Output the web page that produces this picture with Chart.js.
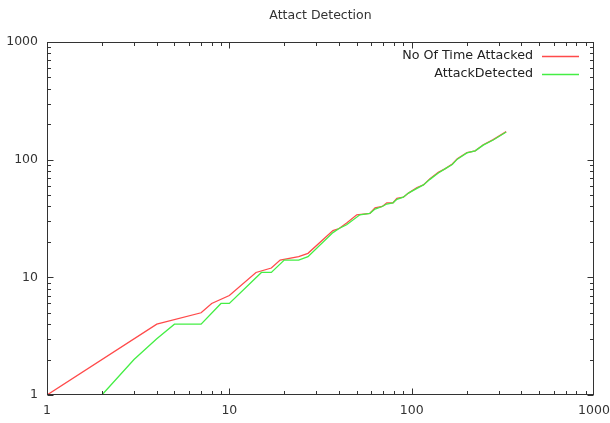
<!DOCTYPE html>
<html>
<head>
<meta charset="utf-8">
<script src="https://cdn.jsdelivr.net/npm/chart.js@4.4.1/dist/chart.umd.min.js"></script>
<style>
  html, body { margin: 0; padding: 0; background: #ffffff; }
  #c { display: block; }
</style>
</head>
<body>
<canvas id="c" width="610" height="423"></canvas>
<script>
const chartTitle = 'Attact Detection';
const seriesNames = ['No Of Time Attacked', 'AttackDetected'];

const attackedX = [1, 4, 7, 8, 10, 14, 17, 19, 24, 27, 37, 40, 44, 50, 59, 63, 69, 73, 79, 83, 90, 96, 107, 116, 126, 140, 153, 167, 178, 201, 223, 247, 280, 330];
const attackedY = [1, 4, 5, 6, 7, 11, 12, 14, 15, 16, 25, 26, 29, 34, 35, 39, 40, 43, 43, 47, 48, 52, 58, 61, 69, 78, 84, 92, 102, 115, 119, 134, 148, 173];

const detectedX = [2, 3, 4, 5, 7, 9, 10, 15, 17, 20, 24, 27, 37, 40, 44, 52, 59, 63, 69, 73, 79, 83, 90, 96, 107, 116, 126, 140, 153, 167, 178, 201, 223, 247, 280, 330];
const detectedY = [1, 2, 3, 4, 4, 6, 6, 11, 11, 14, 14, 15, 24, 26, 28, 34, 35, 38, 40, 42, 43, 46, 48, 52, 57, 61, 68, 77, 84, 91, 101, 114, 119, 133, 147, 172];

const tickValues = [1, 10, 100, 1000];
const tickLabels = ['1', '10', '100', '1000'];
const minorMultipliers = [2, 3, 4, 5, 6, 7, 8, 9];

const seriesColors = ['#ff4a4a', '#44ee44'];
const inkColor = '#333333';
const fontFamily = '"DejaVu Sans", sans-serif';

function toPoints(xs, ys) { return xs.map((x, i) => ({ x: x, y: ys[i] })); }

const gnuFrame = {
  id: 'gnuFrame',
  afterDatasetsDraw(chart) {
    const ctx = chart.ctx;
    const a = chart.chartArea;
    const xs = chart.scales.x, ys = chart.scales.y;
    ctx.save();
    ctx.strokeStyle = inkColor;
    ctx.lineWidth = 1;
    const L = Math.round(a.left) + 0.5, R = Math.round(a.right) - 0.5;
    const T = Math.round(a.top) + 0.5, B = Math.round(a.bottom) - 0.5;
    ctx.strokeRect(L, T, R - L, B - T);
    const major = 6, minor = 3.5;
    ctx.beginPath();
    for (let k = 0; k < 3; k++) {
      const base = Math.pow(10, k);
      const vals = [{ v: base, len: major }].concat(minorMultipliers.map(m => ({ v: m * base, len: minor })));
      vals.forEach(t => {
        const px = Math.round(xs.getPixelForValue(t.v)) + 0.5;
        ctx.moveTo(px, B); ctx.lineTo(px, B - t.len);
        ctx.moveTo(px, T); ctx.lineTo(px, T + t.len);
        const py = Math.round(ys.getPixelForValue(t.v)) + 0.5;
        ctx.moveTo(L, py); ctx.lineTo(L + t.len, py);
        ctx.moveTo(R, py); ctx.lineTo(R - t.len, py);
      });
    }
    ctx.stroke();

    // title
    ctx.fillStyle = inkColor;
    ctx.font = '12.5px ' + fontFamily;
    ctx.textAlign = 'center';
    ctx.textBaseline = 'middle';
    ctx.fillText(chartTitle, (a.left + a.right) / 2, 16);

    // legend (gnuplot style: text then line sample, top right inside)
    ctx.font = '12.7px ' + fontFamily;
    const textRight = a.right - 61;
    const lineL = a.right - 52, lineR = a.right - 15;
    seriesNames.forEach((name, i) => {
      const yy = a.top + 14 + i * 17.5;
      ctx.fillStyle = '#222222';
      ctx.textAlign = 'right';
      ctx.fillText(name, textRight, yy);
      ctx.strokeStyle = seriesColors[i];
      ctx.lineWidth = 1.3;
      ctx.beginPath();
      ctx.moveTo(lineL, Math.round(yy) + 0.5);
      ctx.lineTo(lineR, Math.round(yy) + 0.5);
      ctx.stroke();
    });
    ctx.restore();
  }
};

function logScale(axisId) {
  return {
    type: 'logarithmic',
    min: 1,
    max: 1000,
    grid: { display: false, drawTicks: false },
    border: { display: false },
    afterBuildTicks(scale) { scale.ticks = tickValues.map(v => ({ value: v })); },
    afterFit(scale) {
      if (axisId === 'x') scale.height = 28; else scale.width = 47;
      scale.paddingLeft = 0; scale.paddingRight = 0;
      scale.paddingTop = 0; scale.paddingBottom = 0;
    },
    ticks: {
      autoSkip: false,
      maxRotation: 0,
      padding: axisId === 'x' ? 8 : 9,
      color: inkColor,
      font: { family: fontFamily, size: 12.5 },
      callback(value) {
        const i = tickValues.indexOf(value);
        return i >= 0 ? tickLabels[i] : '';
      }
    }
  };
}

new Chart(document.getElementById('c'), {
  type: 'scatter',
  data: {
    datasets: [
      {
        label: seriesNames[0],
        data: toPoints(attackedX, attackedY),
        showLine: true,
        borderColor: seriesColors[0],
        backgroundColor: seriesColors[0],
        borderWidth: 1.3,
        pointRadius: 0,
        tension: 0,
        order: 1
      },
      {
        label: seriesNames[1],
        data: toPoints(detectedX, detectedY),
        showLine: true,
        borderColor: seriesColors[1],
        backgroundColor: seriesColors[1],
        borderWidth: 1.3,
        pointRadius: 0,
        tension: 0,
        order: 0
      }
    ]
  },
  options: {
    responsive: false,
    devicePixelRatio: 1,
    animation: false,
    layout: { padding: { top: 42, right: 16, left: 0, bottom: 0 } },
    plugins: { legend: { display: false }, title: { display: false }, tooltip: { enabled: false } },
    scales: { x: logScale('x'), y: logScale('y') }
  },
  plugins: [gnuFrame]
});
</script>
</body>
</html>
